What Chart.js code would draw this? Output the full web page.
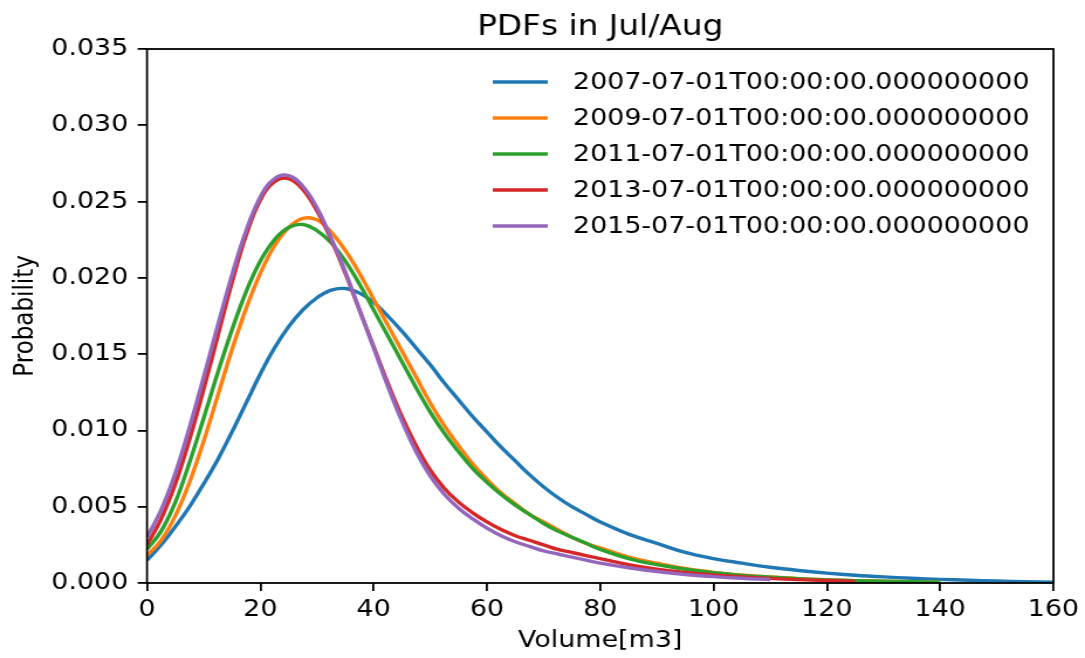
<!DOCTYPE html>
<html>
<head>
<meta charset="utf-8">
<script src="https://cdn.jsdelivr.net/npm/chart.js@4.4.1/dist/chart.umd.min.js"></script>
<style>
  html, body { margin: 0; padding: 0; background: #fff; overflow: hidden; }
  #c { display: block; transform: scaleX(1.17044); transform-origin: 0 0; }
</style>
</head>
<body>
<canvas id="c" width="927" height="658"></canvas>
<script>
// ---- data ----
const chartTitle = 'PDFs in Jul/Aug';
const xLabel = 'Volume[m3]';
const yLabel = 'Probability';
const seriesLabels = [
  '2007-07-01T00:00:00.000000000',
  '2009-07-01T00:00:00.000000000',
  '2011-07-01T00:00:00.000000000',
  '2013-07-01T00:00:00.000000000',
  '2015-07-01T00:00:00.000000000'
];
const seriesColors = ['#1f77b4', '#ff7f0e', '#2ca02c', '#d62728', '#9467bd'];
const volume = [0, 2.5, 5, 7.5, 10, 12.5, 15, 17.5, 20, 22.5, 25, 27.5, 30, 32.5, 35, 37.5, 40,
  42.5, 45, 47.5, 50, 52.5, 55, 57.5, 60, 62.5, 65, 67.5, 70, 72.5, 75, 77.5, 80,
  85, 90, 95, 100, 105, 110, 115, 120, 125, 130, 135, 140, 145, 150, 155, 160];
const pdf2007 = [0.0015, 0.0025, 0.0037, 0.0050, 0.0065, 0.0081, 0.0099, 0.0118, 0.0137, 0.0154,
  0.0168, 0.0179, 0.0187, 0.0192, 0.0193, 0.0190, 0.0184, 0.0175, 0.0165, 0.0154, 0.0143,
  0.0131, 0.0120, 0.0109, 0.0099, 0.0089, 0.0080, 0.0071, 0.0063, 0.0056, 0.0050, 0.0045, 0.0040,
  0.0032, 0.0026, 0.0020, 0.0016, 0.0013, 0.00103, 0.00082, 0.00065, 0.00051, 0.0004, 0.00031,
  0.00024, 0.00018, 0.00013, 0.00009, 0.00006];
const pdf2009 = [0.0018, 0.0028, 0.0044, 0.0066, 0.0093, 0.0123, 0.0153, 0.0180, 0.0203, 0.0221,
  0.0233, 0.0239, 0.0238, 0.0230, 0.0218, 0.0203, 0.0186, 0.0169, 0.0152, 0.0135, 0.0118,
  0.0103, 0.0090, 0.0078, 0.0068, 0.0059, 0.0052, 0.0045, 0.0040, 0.0035, 0.0030, 0.0026, 0.0023,
  0.0017, 0.0013, 0.00095, 0.0007, 0.00052, 0.00039, 0.00029, 0.00021, 0.00015, 0.00011, 0.00008, 0.00006];
const pdf2011 = [0.0022, 0.0034, 0.0053, 0.0079, 0.0108, 0.0138, 0.0166, 0.0191, 0.0211, 0.0225,
  0.0233, 0.0235, 0.0231, 0.0223, 0.0211, 0.0196, 0.0179, 0.0162, 0.0145, 0.0128, 0.0112,
  0.0098, 0.0086, 0.0075, 0.0066, 0.0058, 0.0051, 0.0045, 0.0039, 0.0034, 0.0030, 0.0026, 0.0022,
  0.0016, 0.0012, 0.0009, 0.00068, 0.0005, 0.00038, 0.00028, 0.0002, 0.00015, 0.00011, 0.00008, 0.00006];
const pdf2013 = [0.0025, 0.0042, 0.0065, 0.0094, 0.0127, 0.0162, 0.0197, 0.0228, 0.0251, 0.0263,
  0.0265, 0.0258, 0.0244, 0.0225, 0.0203, 0.0179, 0.0155, 0.0131, 0.0109, 0.0090, 0.0074,
  0.0062, 0.0053, 0.0046, 0.0040, 0.0035, 0.0031, 0.0028, 0.0025, 0.0022, 0.0020, 0.0018, 0.0016,
  0.0012, 0.0009, 0.0007, 0.00053, 0.0004, 0.0003, 0.00022, 0.00016, 0.00012];
const pdf2015 = [0.0030, 0.0048, 0.0072, 0.0102, 0.0135, 0.0169, 0.0202, 0.0231, 0.0253, 0.0265,
  0.0267, 0.0260, 0.0246, 0.0226, 0.0204, 0.0179, 0.0154, 0.0129, 0.0106, 0.0086, 0.0070,
  0.0058, 0.0049, 0.0042, 0.0036, 0.0031, 0.0027, 0.0024, 0.0021, 0.0019, 0.0017, 0.0015, 0.0013,
  0.0010, 0.00075, 0.00056, 0.00042, 0.00031, 0.00023];
const xTicks = { min: 0, max: 160, step: 20 };
const yTicks = { min: 0, max: 0.035, step: 0.005 };

const allSeries = [pdf2007, pdf2009, pdf2011, pdf2013, pdf2015];

const FONT = 'DejaVu Sans';

const datasets = allSeries.map((vals, i) => ({
  label: seriesLabels[i],
  data: vals.map((v, k) => ({ x: volume[k], y: v })),
  borderColor: seriesColors[i],
  backgroundColor: seriesColors[i],
  borderWidth: 3.4,
  pointRadius: 0,
  fill: false,
  tension: 0.4,
  order: allSeries.length - 1 - i
}));

const framePlugin = {
  id: 'frame',
  afterDatasetsDraw(chart) {
    const { ctx, chartArea: a } = chart;
    ctx.save();
    ctx.strokeStyle = '#000';
    ctx.lineWidth = 1.8;
    ctx.strokeRect(a.left, a.top, a.right - a.left, a.bottom - a.top);
    ctx.restore();
  },
  afterDraw(chart) {
    const { ctx, chartArea: a } = chart;
    ctx.save();
    ctx.fillStyle = '#000';
    ctx.font = '28px "' + FONT + '"';
    ctx.textAlign = 'center';
    ctx.textBaseline = 'alphabetic';
    ctx.fillText(chartTitle, (a.left + a.right) / 2, 35);
    ctx.font = '23px "' + FONT + '"';
    ctx.textAlign = 'left';
    ctx.textBaseline = 'middle';
    chart.data.datasets.forEach((ds, i) => {
      const y = 82 + 36 * i;
      ctx.strokeStyle = ds.borderColor;
      ctx.lineWidth = 3.4;
      ctx.beginPath();
      ctx.moveTo(421, y);
      ctx.lineTo(468, y);
      ctx.stroke();
      ctx.fillStyle = '#000';
      ctx.fillText(ds.label, 489.5, y + 1);
    });
    ctx.restore();
  }
};

const tickFont = { family: FONT, size: 23 };

new Chart(document.getElementById('c'), {
  type: 'line',
  data: { datasets },
  options: {
    responsive: false,
    animation: false,
    devicePixelRatio: 1,
    layout: { padding: { left: 0, right: 22.6, top: 49, bottom: 0 } },
    plugins: {
      legend: { display: false },
      tooltip: { enabled: false },
      title: { display: false }
    },
    scales: {
      x: {
        type: 'linear',
        min: xTicks.min,
        max: xTicks.max,
        ticks: { stepSize: xTicks.step, color: '#000', font: tickFont, padding: 5, maxRotation: 0 },
        grid: { display: true, drawOnChartArea: false, drawTicks: true, tickLength: 8, color: '#000', lineWidth: 1.8 },
        border: { display: false },
        title: { display: true, text: xLabel, color: '#000', font: tickFont, padding: { top: 0, bottom: 3 } },
        afterFit(s) { s.height = 75; }
      },
      y: {
        type: 'linear',
        min: yTicks.min,
        max: yTicks.max,
        ticks: { stepSize: yTicks.step, color: '#000', font: tickFont, padding: 8,
                 callback: v => Number(v).toFixed(3) },
        grid: { display: true, drawOnChartArea: false, drawTicks: true, tickLength: 8, color: '#000', lineWidth: 1.8 },
        border: { display: false },
        title: { display: true, text: yLabel, color: '#000', font: tickFont, padding: { top: 8, bottom: 0 } },
        afterFit(s) { s.width = 125.6; }
      }
    }
  },
  plugins: [framePlugin]
});
</script>
</body>
</html>
